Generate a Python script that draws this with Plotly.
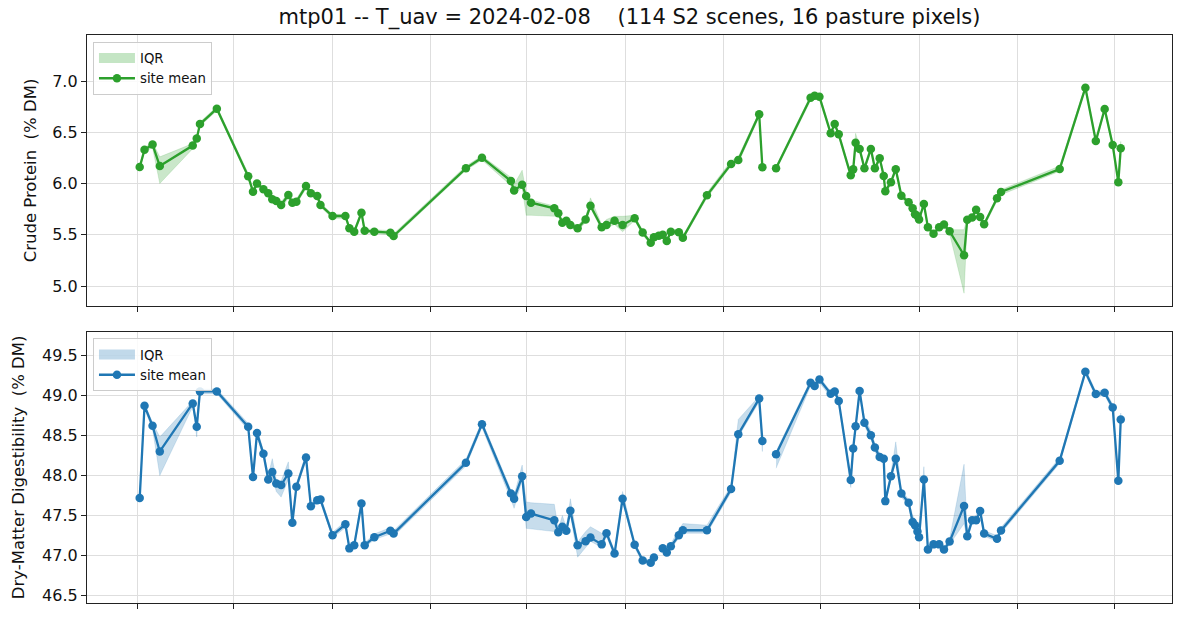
import pandas as pd
import plotly.graph_objects as go
from plotly.subplots import make_subplots

# ---------------- data ----------------
start_date = "2021-01-01"
# scene acquisition day, counted from start_date
scene_day = [3, 9, 19, 28, 69, 74, 78, 99,
             138, 144, 149, 157, 163, 168, 173, 179, 188, 193, 198, 210, 216, 224, 228, 243,
             259, 264, 270, 279, 283, 295, 315, 319,
             409, 429, 465, 469, 479, 484, 490, 519, 524, 529, 534, 539, 548, 558, 564, 578,
             584, 594, 604, 619, 629, 639, 643, 649, 654, 659, 664, 674, 679,
             709, 739, 748, 774, 778, 786, 795,
             838, 843, 849, 863, 868, 873, 888, 891, 894, 899, 905, 913, 918, 924, 929, 931,
             938, 944, 951, 960, 965, 968, 971, 973, 979, 984, 991, 998, 1004, 1011,
             1029, 1033, 1039, 1044, 1049, 1054, 1070, 1075,
             1148, 1180, 1193, 1204, 1214, 1221, 1224]

cp_mean = [6.16, 6.33, 6.38, 6.17, 6.37, 6.44, 6.58, 6.73,
           6.07, 5.92, 6.00, 5.945, 5.905, 5.846, 5.83, 5.79, 5.888, 5.813, 5.822, 5.976, 5.904, 5.878, 5.79, 5.683,
           5.683, 5.563, 5.53, 5.715, 5.54, 5.53, 5.52, 5.488,
           6.148, 6.252, 6.024, 5.933, 5.988, 5.878, 5.813, 5.758, 5.709, 5.618, 5.637, 5.595, 5.563, 5.65, 5.783, 5.573,
           5.595, 5.637, 5.595, 5.66, 5.522, 5.422, 5.475, 5.49, 5.50, 5.439, 5.53, 5.524, 5.47,
           5.885, 6.19, 6.229, 6.675, 6.158, None, 6.148,
           6.837, 6.857, 6.847, 6.49, 6.58, 6.48, 6.08, 6.138, 6.398, 6.336, 6.148, 6.337, 6.148, 6.246, 6.073, 5.925,
           6.013, 6.14, 5.88, 5.817, 5.758, 5.70, 5.683, 5.65, 5.80, 5.573, 5.51, 5.573, 5.60, 5.534,
           5.30, 5.647, 5.668, 5.745, 5.673, 5.602, 5.856, 5.917,
           6.141, 6.935, 6.415, 6.727, 6.376, 6.012, 6.343]

cp_q25 = [6.14, 6.31, 6.35, 6.00, 6.34, 6.42, 6.56, 6.71,
          6.05, 5.90, 5.97, 5.92, 5.88, 5.82, 5.80, 5.75, 5.86, 5.79, 5.80, 5.95, 5.88, 5.86, 5.77, 5.66,
          5.66, 5.54, 5.51, 5.69, 5.52, 5.51, 5.50, 5.47,
          6.13, 6.23, 5.98, 5.90, 5.96, 5.69, 5.69, 5.68, 5.69, 5.59, 5.61, 5.57, 5.54, 5.62, 5.76, 5.55,
          5.57, 5.60, 5.53, 5.64, 5.50, 5.40, 5.45, 5.47, 5.48, 5.42, 5.51, 5.50, 5.45,
          5.86, 6.17, 6.20, 6.65, 6.14, None, 6.13,
          6.81, 6.84, 6.82, 6.47, 6.56, 6.46, 6.05, 6.11, 6.37, 6.31, 6.12, 6.31, 6.12, 6.22, 6.05, 5.90,
          5.99, 6.12, 5.86, 5.79, 5.74, 5.68, 5.66, 5.63, 5.78, 5.55, 5.49, 5.55, 5.58, 5.51,
          4.93, 5.62, 5.65, 5.72, 5.65, 5.58, 5.83, 5.89,
          6.12, 6.91, 6.39, 6.70, 6.35, 5.99, 6.32]

cp_q75 = [6.18, 6.35, 6.40, 6.26, 6.39, 6.46, 6.60, 6.75,
          6.10, 5.95, 6.02, 5.97, 5.93, 5.88, 5.86, 5.82, 5.91, 5.83, 5.85, 6.00, 5.93, 5.90, 5.81, 5.70,
          5.70, 5.58, 5.55, 5.74, 5.56, 5.55, 5.54, 5.51,
          6.17, 6.27, 6.06, 5.99, 6.13, 5.91, 5.84, 5.78, 5.73, 5.64, 5.66, 5.62, 5.59, 5.67, 5.86, 5.60,
          5.65, 5.68, 5.68, 5.69, 5.54, 5.44, 5.50, 5.51, 5.52, 5.46, 5.55, 5.55, 5.49,
          5.91, 6.22, 6.26, 6.70, 6.18, None, 6.17,
          6.86, 6.88, 6.87, 6.51, 6.60, 6.50, 6.10, 6.16, 6.49, 6.36, 6.17, 6.37, 6.17, 6.27, 6.10, 5.95,
          6.04, 6.16, 5.90, 5.84, 5.78, 5.72, 5.70, 5.67, 5.82, 5.60, 5.53, 5.60, 5.62, 5.55,
          5.55, 5.67, 5.69, 5.77, 5.69, 5.62, 5.88, 5.94,
          6.17, 6.96, 6.44, 6.75, 6.40, 6.04, 6.41]

dmd_mean = [47.72, 48.87, 48.62, 48.30, 48.90, 48.61, 49.05, 49.05,
            48.61, 47.98, 48.53, 48.27, 47.95, 48.045, 47.90, 47.88, 48.025, 47.41, 47.86, 48.225, 47.616, 47.69, 47.70, 47.254,
            47.39, 47.09, 47.13, 47.65, 47.13, 47.23, 47.31, 47.275,
            48.158, 48.641, 47.775, 47.71, 47.99, 47.483, 47.525, 47.44, 47.29, 47.36, 47.31, 47.56, 47.13, 47.18, 47.225, 47.14,
            47.28, 47.025, 47.71, 47.136, 46.94, 46.91, 46.975, None, 47.09, 47.04, 47.116, 47.254, 47.316,
            47.316, 47.83, 48.516, 48.96, 48.43, None, 48.266,
            49.158, 49.116, 49.20, 49.02, 49.05, 48.93, 47.945, 48.338, 48.616, 49.054, 48.66, 48.502, 48.35, 48.23, 48.21, 47.68,
            47.99, 48.21, 47.775, 47.66, 47.42, 47.38, 47.30, 47.23, 47.95, 47.075, 47.14, 47.14, 47.075, 47.175,
            47.62, 47.24, 47.44, 47.44, 47.557, 47.275, 47.21, 47.313,
            48.183, 49.295, 49.016, 49.033, 48.85, 47.933, 48.70]

dmd_q25 = [47.69, 48.83, 48.58, 48.00, 48.86, 48.48, 49.02, 49.02,
           48.57, 47.94, 48.48, 48.22, 47.90, 47.98, 47.80, 47.73, 47.95, 47.37, 47.82, 48.18, 47.58, 47.65, 47.66, 47.22,
           47.35, 47.06, 47.10, 47.61, 47.10, 47.20, 47.27, 47.24,
           48.12, 48.60, 47.70, 47.59, 47.95, 47.34, 47.34, 47.30, 47.25, 47.32, 47.26, 47.52, 46.98, 47.10, 47.18, 47.10,
           47.24, 46.99, 47.67, 47.10, 46.91, 46.88, 46.94, None, 47.06, 47.01, 47.08, 47.22, 47.28,
           47.28, 47.79, 48.48, 48.92, 48.30, None, 48.09,
           49.12, 49.08, 49.16, 48.98, 49.01, 48.90, 47.85, 48.30, 48.58, 49.02, 48.62, 48.46, 48.30, 48.18, 48.17, 47.63,
           47.95, 48.17, 47.73, 47.62, 47.36, 47.30, 47.24, 47.19, 47.91, 47.04, 47.10, 47.10, 47.04, 47.14,
           47.40, 47.20, 47.40, 47.40, 47.52, 47.24, 47.18, 47.28,
           48.15, 49.26, 48.98, 49.00, 48.81, 47.90, 48.66]

dmd_q75 = [47.76, 48.90, 48.66, 48.48, 48.93, 48.64, 49.08, 49.08,
           48.65, 48.02, 48.58, 48.31, 48.00, 48.21, 47.95, 47.93, 48.17, 47.45, 47.90, 48.27, 47.65, 47.73, 47.74, 47.29,
           47.43, 47.12, 47.16, 47.69, 47.16, 47.27, 47.35, 47.31,
           48.20, 48.68, 47.82, 47.75, 48.13, 47.67, 47.66, 47.64, 47.33, 47.50, 47.35, 47.71, 47.17, 47.30, 47.36, 47.28,
           47.32, 47.06, 47.80, 47.17, 46.97, 46.94, 47.01, None, 47.12, 47.07, 47.15, 47.32, 47.40,
           47.38, 47.87, 48.70, 48.99, 48.46, None, 48.30,
           49.19, 49.15, 49.23, 49.05, 49.09, 48.97, 47.98, 48.38, 48.66, 49.09, 48.72, 48.56, 48.40, 48.28, 48.25, 47.72,
           48.03, 48.42, 47.82, 47.70, 47.50, 47.45, 47.36, 47.27, 48.11, 47.11, 47.17, 47.17, 47.11, 47.21,
           48.14, 47.28, 47.48, 47.50, 47.60, 47.31, 47.25, 47.35,
           48.22, 49.33, 49.05, 49.07, 48.89, 47.97, 48.78]

title_text = "mtp01 -- T_uav = 2024-02-08    (114 S2 scenes, 16 pasture pixels)"
cp_label = "Crude Protein  (% DM)"
dmd_label = "Dry-Matter Digestibility  (% DM)"
cp_ticks = [5.0, 5.5, 6.0, 6.5, 7.0]
dmd_ticks = [46.5, 47.0, 47.5, 48.0, 48.5, 49.0, 49.5]
x_tick_dates = ["2021-01-01", "2021-05-01", "2021-09-01", "2022-01-01", "2022-05-01",
                "2022-09-01", "2023-01-01", "2023-05-01", "2023-09-01", "2024-01-01", "2024-05-01"]

# ---------------- figure ----------------
origin = pd.Timestamp(start_date)
dates = [origin + pd.Timedelta(days=d) for d in scene_day]

GREEN = "#2ca02c"
BLUE = "#1f77b4"
FONT = "DejaVu Sans"


def band_polygon(xs, lo, hi):
    px, py = [], []
    seg = []
    for x, a, b in zip(xs, lo, hi):
        if a is None or b is None:
            if len(seg) > 1:
                px += [s[0] for s in seg] + [s[0] for s in seg[::-1]] + [None]
                py += [s[2] for s in seg] + [s[1] for s in seg[::-1]] + [None]
            seg = []
        else:
            seg.append((x, a, b))
    if len(seg) > 1:
        px += [s[0] for s in seg] + [s[0] for s in seg[::-1]]
        py += [s[2] for s in seg] + [s[1] for s in seg[::-1]]
    return px, py


fig = make_subplots(rows=2, cols=1, shared_xaxes=False)

for row, color, fillc, legc, mean, lo, hi, leg in [
    (1, GREEN, "rgba(44,160,44,0.25)", "rgba(44,160,44,0.28)", cp_mean, cp_q25, cp_q75, "legend"),
    (2, BLUE, "rgba(31,119,180,0.25)", "rgba(31,119,180,0.28)", dmd_mean, dmd_q25, dmd_q75, "legend2"),
]:
    bx, by = band_polygon(dates, lo, hi)
    fig.add_trace(go.Scatter(x=bx, y=by, mode="lines", fill="toself", fillcolor=fillc,
                             line=dict(width=0.6, color=fillc), name="IQR", showlegend=False,
                             hoverinfo="skip"), row=row, col=1)
    # legend-only entry drawn as a wide patch
    fig.add_trace(go.Scatter(x=[None], y=[None], mode="lines", name="IQR", legend=leg,
                             line=dict(color=legc, width=10)), row=row, col=1)
    fig.add_trace(go.Scatter(x=dates, y=mean, mode="lines+markers", name="site mean",
                             line=dict(color=color, width=2.3),
                             marker=dict(color=color, size=8.5), legend=leg,
                             connectgaps=False), row=row, col=1)

x_lo = origin + pd.Timedelta(days=-62.6)
x_hi = origin + pd.Timedelta(days=1287.8)

axis_common = dict(showline=True, linecolor="#222", linewidth=1.3, mirror=True,
                   ticks="outside", ticklen=5, tickwidth=1.2, tickcolor="#222",
                   showgrid=True, gridcolor="#dedede", gridwidth=1, zeroline=False,
                   tickfont=dict(family=FONT, size=16, color="#111"))

for r in (1, 2):
    fig.update_xaxes(row=r, col=1, type="date", range=[x_lo, x_hi],
                     tickvals=x_tick_dates, showticklabels=False, **axis_common)

fig.update_yaxes(row=1, col=1, range=[4.805, 7.449], tickvals=cp_ticks,
                 tickformat=".1f", title=dict(text=cp_label, standoff=11,
                 font=dict(family=FONT, size=16.5, color="#111")), **axis_common)
fig.update_yaxes(row=2, col=1, range=[46.408, 49.795], tickvals=dmd_ticks,
                 tickformat=".1f", title=dict(text=dmd_label, standoff=13,
                 font=dict(family=FONT, size=16.5, color="#111")), **axis_common)

legend_common = dict(xanchor="left", yanchor="top", bgcolor="rgba(255,255,255,0.85)",
                     bordercolor="#cccccc", borderwidth=1, itemwidth=36,
                     font=dict(family=FONT, size=13.3, color="#111"), tracegroupgap=0)

fig.update_layout(
    width=1181, height=618,
    margin=dict(l=87, r=9, t=35, b=15),
    paper_bgcolor="white", plot_bgcolor="white",
    font=dict(family=FONT, color="#111"),
    title=dict(text=title_text, x=0.5, xref="paper", xanchor="center",
               y=1 - 17 / 618, yref="container", yanchor="middle",
               font=dict(family=FONT, size=21, color="#111")),
    xaxis=dict(domain=[0, 1], anchor="y"),
    xaxis2=dict(domain=[0, 1], anchor="y2"),
    yaxis=dict(domain=[0.5229, 1.0]),
    yaxis2=dict(domain=[0.0, 0.4776]),
    legend=dict(x=0.0055, y=0.988, **legend_common),
    legend2=dict(x=0.0055, y=0.466, **legend_common),
    showlegend=True,
)

fig.write_html("out.html")
